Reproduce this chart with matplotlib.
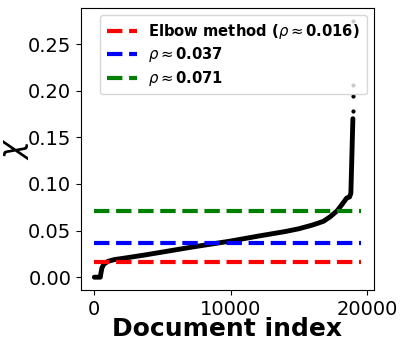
#!/usr/bin/env python3
"""Sorted chi per document with the three rho thresholds."""
import matplotlib
matplotlib.use("Agg")
import matplotlib.pyplot as plt

# sorted chi values at a handful of indices
idx = [0, 440, 480, 560, 700, 1000, 1500, 2000, 3600, 5000, 7240, 9920,
       12100, 14000, 15000, 16000, 16800, 17300, 17800, 18200, 18500, 18700,
       18800, 18870, 18920, 18950]
chi = [0.0, 0.0, 0.004, 0.010, 0.014, 0.017, 0.019, 0.020, 0.0236, 0.027,
       0.0325, 0.0386, 0.0443, 0.049, 0.052, 0.056, 0.060, 0.065, 0.0713,
       0.079, 0.085, 0.086, 0.090, 0.127, 0.155, 0.170]
# isolated top values
out_idx = [18950, 18950, 18950, 18950]
out_chi = [0.178, 0.194, 0.206, 0.275]

n_docs = 19520
thresholds = [0.016, 0.037, 0.071]
labels = [r"Elbow method ($\rho \approx$0.016)", r"$\rho \approx$0.037",
          r"$\rho \approx$0.071"]
colors = ["red", "blue", "green"]

fig = plt.figure(figsize=(4, 3.42), dpi=100)
ax = fig.add_axes([0.2025, 0.152, 0.7325, 0.8246])

ax.plot(idx, chi, color="black", lw=3.5, solid_capstyle="round", zorder=2)
ax.plot(out_idx, out_chi, "k.", ms=4, zorder=2)
for t, lab, c in zip(thresholds, labels, colors):
    ax.plot([0, n_docs], [t, t], ls="--", lw=3, color=c, label=lab, zorder=3)

ax.set_xticks([0, 10000, 20000])
ax.set_yticks([0.0, 0.05, 0.10, 0.15, 0.20, 0.25])
ax.tick_params(labelsize=14)
ax.set_xlabel("Document index", fontsize=18, fontweight="bold")
ax.xaxis.set_label_coords(0.5, -0.095)
ax.xaxis.label.set_va("top")
ax.set_ylabel(r"$\chi$", fontsize=22)
ax.yaxis.set_label_coords(-0.17, 0.5)
ax.legend(loc="upper right", prop={"weight": "bold", "size": 10.6},
          labelspacing=0.3, borderpad=0.45)

fig.savefig("out.png", dpi=100)
print("wrote out.png")
